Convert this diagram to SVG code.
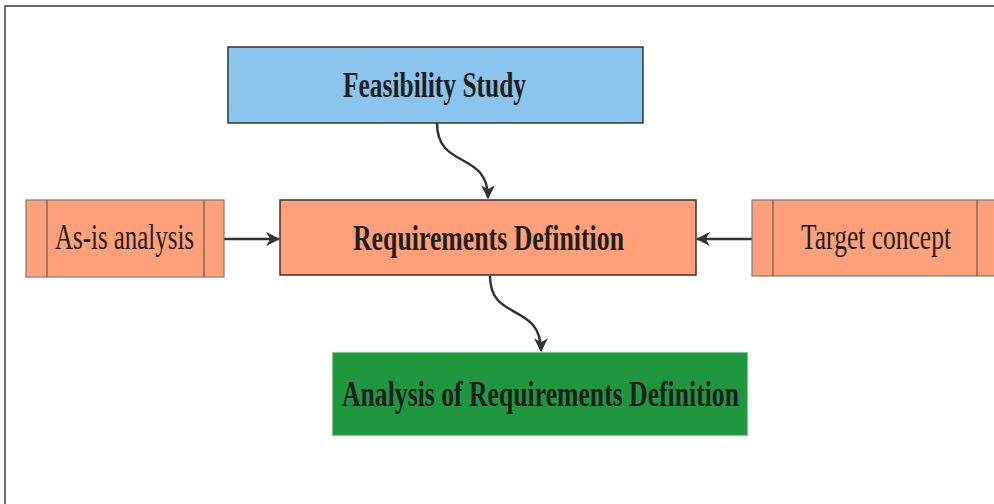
<svg xmlns="http://www.w3.org/2000/svg" width="994" height="504" viewBox="0 0 994 504">
  <defs>
    <marker id="arrow" viewBox="0 0 12 12" refX="11" refY="6" markerWidth="14" markerHeight="14" markerUnits="userSpaceOnUse" orient="auto">
      <path d="M0,0 L12,6 L0,12 L3.5,6 z" fill="#333"/>
    </marker>
  </defs>
  <style>
    .frame { fill: none; stroke: #3a3a3a; stroke-width: 1.5; }
    .main { stroke: #333; stroke-width: 1.5; }
    .side { fill: #FFA07A; stroke: #7a7a7a; stroke-width: 1.2; }
    .bar { stroke: #6a5a50; stroke-width: 1.2; }
    .title { font-family: "Liberation Serif", "Times New Roman", serif; font-weight: bold; font-size: 35px; fill: #1e1e1e; }
    .label { font-family: "Liberation Serif", "Times New Roman", serif; font-size: 35px; fill: #1e1e1e; }
    .link { fill: none; stroke: #333; stroke-width: 2.5; marker-end: url(#arrow); }
  </style>

  <rect width="994" height="504" fill="#ffffff"/>
  <rect class="frame" x="5" y="6" width="1000" height="510"/>

  <g id="connectors">
    <path class="link" d="M437,123 C437,170 488,150 488,198"/>
    <path class="link" d="M490,276 C490,322 541,302 541,351"/>
    <path class="link" d="M224,239 L279,239"/>
    <path class="link" d="M752,239 L697,239"/>
  </g>

  <g id="feasibility-study">
    <rect class="main" x="228" y="47" width="415" height="76" fill="#8BC4EC"/>
    <text class="title" x="343" y="97" textLength="183" lengthAdjust="spacingAndGlyphs">Feasibility Study</text>
  </g>

  <g id="requirements-definition">
    <rect class="main" x="280" y="200" width="416" height="75" fill="#FFA07A"/>
    <text class="title" x="353" y="250" textLength="271" lengthAdjust="spacingAndGlyphs">Requirements Definition</text>
  </g>

  <g id="as-is-analysis">
    <rect class="side" x="26" y="200" width="198" height="77"/>
    <line class="bar" x1="47" y1="200" x2="47" y2="277"/>
    <line class="bar" x1="204" y1="200" x2="204" y2="277"/>
    <text class="label" x="55" y="249" textLength="139" lengthAdjust="spacingAndGlyphs">As-is analysis</text>
  </g>

  <g id="target-concept">
    <rect class="side" x="752" y="200" width="244" height="76"/>
    <line class="bar" x1="773" y1="200" x2="773" y2="276"/>
    <line class="bar" x1="977" y1="200" x2="977" y2="276"/>
    <text class="label" x="801" y="249" textLength="150" lengthAdjust="spacingAndGlyphs">Target concept</text>
  </g>

  <g id="analysis-of-requirements-definition">
    <rect x="332.5" y="352.5" width="415" height="83" fill="#20963F" stroke="#7cc58e" stroke-width="1.2"/>
    <text class="title" x="342" y="406" textLength="397" lengthAdjust="spacingAndGlyphs">Analysis of Requirements Definition</text>
  </g>
</svg>
